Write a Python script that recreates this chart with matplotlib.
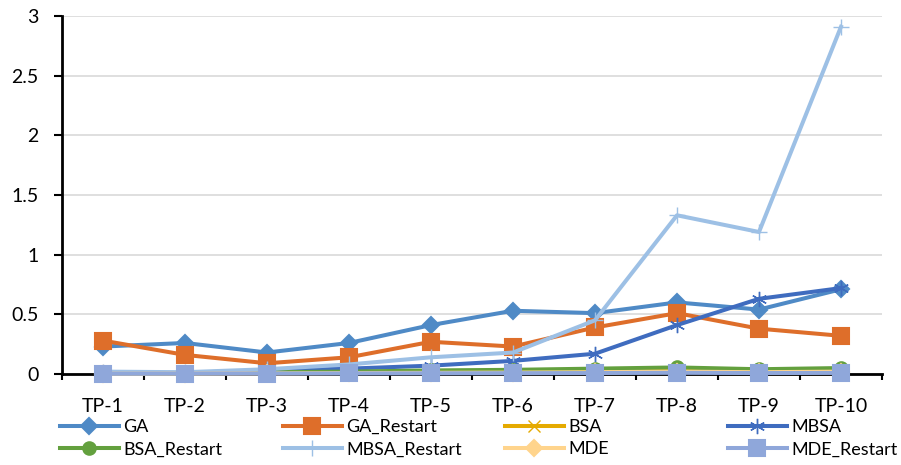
import matplotlib.pyplot as plt

plt.rcParams['font.family'] = ['Lato', 'DejaVu Sans']
plt.rcParams['font.size'] = 14

# test problems and the mean times of each method
problems = ['TP-1', 'TP-2', 'TP-3', 'TP-4', 'TP-5', 'TP-6', 'TP-7', 'TP-8', 'TP-9', 'TP-10']
ga = [0.23, 0.26, 0.18, 0.26, 0.41, 0.53, 0.51, 0.60, 0.54, 0.71]
ga_restart = [0.28, 0.16, 0.09, 0.14, 0.27, 0.23, 0.39, 0.51, 0.38, 0.32]
bsa = [0.003, 0.005, 0.01, 0.015, 0.02, 0.02, 0.03, 0.035, 0.03, 0.03]
mbsa = [0.005, 0.01, 0.03, 0.045, 0.07, 0.11, 0.17, 0.41, 0.63, 0.72]
bsa_restart = [0.005, 0.008, 0.015, 0.02, 0.03, 0.035, 0.045, 0.055, 0.04, 0.05]
mbsa_restart = [0.02, 0.015, 0.04, 0.08, 0.14, 0.18, 0.45, 1.33, 1.19, 2.91]
mde = [0.002, 0.003, 0.005, 0.008, 0.01, 0.012, 0.015, 0.02, 0.015, 0.02]
mde_restart = [0.002, 0.003, 0.004, 0.005, 0.006, 0.007, 0.008, 0.01, 0.008, 0.009]

# name, values, colour, marker, marker size, marker edge width
series = [
    ('GA', ga, '#4F8AC6', 'D', 8.5, 1.5),
    ('GA_Restart', ga_restart, '#DE6E2A', 's', 11, 1.5),
    ('BSA', bsa, '#E5AA00', 'x', 9, 1.0),
    ('MBSA', mbsa, '#3F6CBF', (6, 2, 0), 11, 1.0),
    ('BSA_Restart', bsa_restart, '#63A03E', 'o', 9, 1.5),
    ('MBSA_Restart', mbsa_restart, '#9DC0E5', '+', 11, 1.0),
    ('MDE', mde, '#FFD48C', 'D', 8.5, 1.5),
    ('MDE_Restart', mde_restart, '#8FA7DA', 's', 11, 1.5),
]

fig = plt.figure(figsize=(9.01, 4.65), dpi=100)
ax = fig.add_axes([62 / 901, 1 - 374 / 465, 820 / 901, 358 / 465])

x = list(range(len(problems)))
handles = {}
for i, (name, vals, color, marker, ms, mew) in enumerate(series):
    line, = ax.plot(x, vals, color=color, lw=2.9, marker=marker, ms=ms,
                    mew=mew, mec=color, mfc=color, label=name,
                    clip_on=False, zorder=3 + i)
    handles[name] = line

ax.set_xlim(-0.5, 9.5)
ax.set_ylim(0, 3)
ax.set_yticks([0, 0.5, 1, 1.5, 2, 2.5, 3])
ax.set_yticklabels(['0', '0.5', '1', '1.5', '2', '2.5', '3'])
ax.set_xticks(x)
ax.set_xticklabels(problems)
ax.set_xticks([i - 0.5 for i in range(len(problems) + 1)], minor=True)
ax.tick_params(axis='x', which='major', length=0, pad=17)
ax.tick_params(axis='x', which='minor', length=4, width=1.5, direction='out')
ax.tick_params(axis='y', length=6, width=1.5, pad=11)

ax.grid(axis='y', color='#D9D9D9', lw=1.2)
ax.set_axisbelow(True)
for side in ['top', 'right']:
    ax.spines[side].set_visible(False)
for side in ['left', 'bottom']:
    ax.spines[side].set_linewidth(2)
    ax.spines[side].set_color('black')

# legend laid out in four evenly spaced columns under the axis
columns = [['GA', 'BSA_Restart'], ['GA_Restart', 'MBSA_Restart'],
           ['BSA', 'MDE'], ['MBSA', 'MDE_Restart']]
col_left = [60, 283, 505, 728]
for names, left in zip(columns, col_left):
    fig.legend([handles[n] for n in names], names,
               loc='upper left', bbox_to_anchor=(left / 901, 1 - 419 / 465),
               frameon=False, handlelength=3.25, handletextpad=0.25,
               labelspacing=0.35, borderpad=0, borderaxespad=0,
               fontsize=13)

fig.savefig('out.png', dpi=100)
